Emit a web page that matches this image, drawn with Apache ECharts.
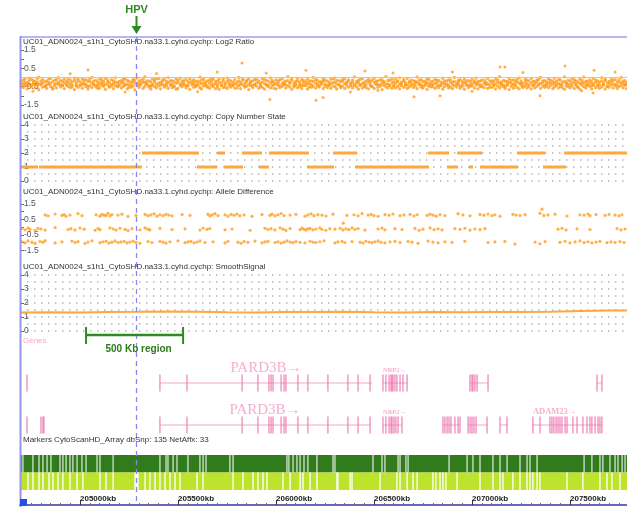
<!DOCTYPE html>
<html><head><meta charset="utf-8">
<script src="https://cdn.jsdelivr.net/npm/echarts@6/dist/echarts.min.js"></script>
<style>html,body{margin:0;padding:0;background:#fff}#c{width:627px;height:513px}</style>
</head><body><div id="c"></div>
<script>
// ---------- data (kb positions on chr2) ----------
const viewRange = [204694, 207791];
const axisRange = [204500, 208000];
const hpvKb = 205285;
const regionKb = [205031, 205526];
const trackTitles = [
  'UC01_ADN0024_s1h1_CytoSHD.na33.1.cyhd.cychp: Log2 Ratio',
  'UC01_ADN0024_s1h1_CytoSHD.na33.1.cyhd.cychp: Copy Number State',
  'UC01_ADN0024_s1h1_CytoSHD.na33.1.cyhd.cychp: Allele Difference',
  'UC01_ADN0024_s1h1_CytoSHD.na33.1.cyhd.cychp: SmoothSignal'
];
const markersTitle = 'Markers CytoScanHD_Array dbSnp: 135 NetAffx: 33';
const log2TickValues = [-1.5, -1, -0.5, 0, 0.5, 1, 1.5];
const log2LabelValues = [-1.5, -0.5, 0.5, 1.5];

// Log2 ratio probes: [kb, probeA, probeB, probeC]
const log2Probes = [
[204700,-0.2,-0.31,-0.48],[204711,-0.37,-0.14,-0.55],[204720,-0.07,-0.26,-0.38],[204731,-0.28,-0.42,-0.62],[204740,-0.03,-0.19,-0.44],[204752,-0.45,-0.1,-0.51],[204761,-0.17,-0.33,-0.35],[204770,-0.4,-0.22,-0.58],[204782,-0.24,-0.05,-0.42],[204790,0.02,-0.36,-0.67],
[204801,-0.34,-0.18,-0.4],[204810,-0.11,-0.29,-0.53],[204822,-0.49,-0.23,-0.46],[204830,-0.19,-0.4,-0.6],[204841,-0.27,-0.08,-0.37],[204850,-0.06,-0.32,-0.5],[204861,-0.56,-0.21,-0.64],[204871,-0.14,-0.35,-0.43],[204880,-0.32,-0.12,-0.57],[204890,-0.01,-0.27,-0.39],
[204901,-0.38,-0.16,-0.52],[204911,-0.22,-0.44,-0.45],[204920,-0.09,-0.3,-0.61],[204932,-0.43,-0.2,-0.36],[204940,-0.26,-0.06,-0.49],[204951,-0.15,-0.37,-0.56],[204960,-0.52,-0.25,-0.41],[204972,-0.04,-0.17,-0.66],[204981,-0.3,-0.41,-0.47],[204990,-0.18,-0.09,-0.54],
[205001,-0.41,-0.24,-0.43],[205012,-0.08,-0.34,-0.59],[205020,-0.29,-0.15,-0.38],[205031,-0.13,-0.38,-0.5],[205041,-0.47,-0.2,-0.63],[205050,-0.21,-0.07,-0.46],[205061,0.01,-0.31,-0.55],[205070,-0.35,-0.19,-0.4],[205082,-0.16,-0.43,-0.52],[205091,-0.44,-0.26,-0.6],
[205100,-0.1,-0.33,-0.57],[205111,-0.27,-0.12,-0.42],[205121,-0.39,-0.22,-0.48],[205130,-0.05,-0.36,-0.65],[205142,-0.23,-0.14,-0.39],[205150,-0.5,-0.28,-0.53],[205161,-0.12,-0.39,-0.46],[205171,-0.33,-0.18,-0.61],[205180,-0.02,-0.25,-0.44],[205191,-0.28,-0.46,-0.51],
[205200,-0.46,-0.21,-0.36],[205212,-0.17,-0.3,-0.58],[205221,-0.25,-0.09,-0.49],[205230,-0.07,-0.37,-0.43],[205241,-0.36,-0.16,-0.62],[205250,-0.2,-0.42,-0.54],[205262,-0.54,-0.27,-0.4],[205271,-0.11,-0.2,-0.47],[205280,-0.3,-0.13,-0.68],[205292,-0.03,-0.34,-0.45],
[205301,-0.4,-0.23,-0.55],[205310,-0.15,-0.32,-0.41],[205322,-0.26,-0.1,-0.6],[205331,0.03,-0.28,-0.48],[205340,-0.33,-0.19,-0.37],[205352,-0.19,-0.45,-0.52],[205361,-0.48,-0.24,-0.63],[205370,-0.09,-0.35,-0.44],[205381,-0.24,-0.14,-0.5],[205390,-0.37,-0.06,-0.57],
[205402,-0.06,-0.29,-0.46],[205411,-0.29,-0.4,-0.62],[205420,-0.14,-0.22,-0.39],[205431,-0.42,-0.11,-0.53],[205441,-0.21,-0.35,-0.45],[205450,-0.01,-0.26,-0.59],[205462,-0.35,-0.17,-0.42],[205471,-0.18,-0.38,-0.56],[205480,-0.51,-0.24,-0.48],[205491,-0.1,-0.31,-0.64],
[205500,-0.27,-0.15,-0.6],[205512,-0.04,-0.36,-0.44],[205521,-0.38,-0.21,-0.51],[205530,-0.16,-0.3,-0.38],[205541,-0.45,-0.12,-0.57],[205551,-0.23,-0.4,-0.47],[205560,-0.08,-0.27,-0.65],[205572,-0.31,-0.19,-0.41],[205581,-0.13,-0.34,-0.54],[205590,-0.43,-0.22,-0.49],
[205601,-0.2,-0.37,-0.42],[205612,0.02,-0.24,-0.56],[205620,-0.34,-0.13,-0.63],[205631,-0.11,-0.29,-0.47],[205641,-0.26,-0.41,-0.4],[205650,-0.49,-0.18,-0.53],[205661,-0.15,-0.32,-0.59],[205671,-0.05,-0.23,-0.45],[205680,-0.37,-0.1,-0.5],[205692,-0.22,-0.35,-0.61],
[205701,-0.41,-0.19,-0.5],[205710,-0.09,-0.28,-0.64],[205722,-0.28,-0.44,-0.43],[205731,-0.17,-0.07,-0.55],[205740,-0.53,-0.3,-0.38],[205751,-0.03,-0.21,-0.6],[205761,-0.32,-0.14,-0.46],[205770,-0.19,-0.38,-0.52],[205781,-0.44,-0.25,-0.41],[205790,-0.12,-0.33,-0.58],
[205802,-0.25,-0.4,-0.57],[205811,0.0,-0.18,-0.45],[205820,-0.36,-0.27,-0.61],[205831,-0.14,-0.09,-0.4],[205842,-0.47,-0.31,-0.53],[205850,-0.21,-0.16,-0.48],[205861,-0.07,-0.36,-0.66],[205870,-0.3,-0.22,-0.44],[205881,-0.18,-0.43,-0.55],[205891,-0.4,-0.12,-0.39],
[205900,-0.1,-0.29,-0.47],[205912,-0.27,-0.17,-0.59],[205921,-0.5,-0.34,-0.42],[205930,-0.06,-0.24,-0.54],[205941,-0.33,-0.11,-0.63],[205951,-0.16,-0.39,-0.41],[205960,-0.42,-0.2,-0.5],[205972,-0.02,-0.3,-0.57],[205981,-0.24,-0.15,-0.45],[205990,-0.38,-0.26,-0.6],
[206001,-0.13,-0.36,-0.62],[206011,-0.29,-0.2,-0.43],[206020,-0.46,-0.12,-0.55],[206032,-0.08,-0.33,-0.49],[206041,-0.35,-0.25,-0.38],[206050,-0.2,-0.41,-0.58],[206061,0.04,-0.17,-0.46],[206071,-0.31,-0.28,-0.52],[206080,-0.15,-0.07,-0.65],[206092,-0.52,-0.3,-0.44],
[206101,-0.22,-0.35,-0.41],[206110,-0.05,-0.19,-0.56],[206121,-0.39,-0.26,-0.48],[206131,-0.12,-0.42,-0.6],[206140,-0.27,-0.14,-0.45],[206152,-0.44,-0.23,-0.39],[206161,-0.09,-0.32,-0.63],[206170,-0.34,-0.18,-0.51],[206181,-0.18,-0.39,-0.54],[206190,0.01,-0.21,-0.47],
[206202,-0.3,-0.12,-0.58],[206211,-0.14,-0.37,-0.44],[206220,-0.48,-0.24,-0.52],[206231,-0.23,-0.31,-0.37],[206241,-0.06,-0.2,-0.61],[206250,-0.37,-0.15,-0.49],[206262,-0.19,-0.43,-0.55],[206271,-0.41,-0.27,-0.42],[206280,-0.1,-0.33,-0.59],[206291,-0.28,-0.08,-0.46],
[206301,-0.03,-0.26,-0.5],[206310,-0.35,-0.17,-0.63],[206322,-0.17,-0.4,-0.4],[206331,-0.5,-0.22,-0.56],[206340,-0.21,-0.11,-0.47],[206351,-0.08,-0.34,-0.6],[206361,-0.32,-0.25,-0.43],[206370,-0.13,-0.19,-0.53],[206382,-0.45,-0.3,-0.38],[206391,-0.25,-0.14,-0.57],
[206400,0.03,-0.38,-0.45],[206412,-0.3,-0.21,-0.52],[206421,-0.16,-0.28,-0.64],[206430,-0.42,-0.1,-0.41],[206441,-0.07,-0.33,-0.58],[206451,-0.27,-0.44,-0.48],[206460,-0.38,-0.18,-0.55],[206472,-0.11,-0.24,-0.62],[206481,-0.22,-0.36,-0.44],[206490,-0.49,-0.15,-0.5],
[206501,-0.04,-0.27,-0.6],[206511,-0.33,-0.2,-0.39],[206520,-0.19,-0.39,-0.54],[206532,-0.4,-0.13,-0.47],[206541,-0.12,-0.3,-0.66],[206550,-0.26,-0.22,-0.43],[206561,0.05,-0.35,-0.51],[206571,-0.36,-0.16,-0.57],[206580,-0.15,-0.42,-0.46],[206592,-0.29,-0.09,-0.59],
[206601,-0.47,-0.24,-0.42],[206610,-0.09,-0.31,-0.57],[206621,-0.23,-0.18,-0.49],[206631,-0.02,-0.37,-0.62],[206640,-0.34,-0.26,-0.45],[206652,-0.18,-0.12,-0.54],[206661,-0.43,-0.29,-0.38],[206670,-0.06,-0.4,-0.6],[206681,-0.28,-0.21,-0.52],[206690,-0.14,-0.33,-0.44],
[206702,-0.39,-0.17,-0.55],[206711,-0.21,-0.3,-0.46],[206720,0.02,-0.25,-0.61],[206731,-0.31,-0.14,-0.4],[206741,-0.12,-0.41,-0.53],[206750,-0.46,-0.22,-0.58],[206762,-0.2,-0.34,-0.43],[206771,-0.07,-0.28,-0.65],[206780,-0.35,-0.11,-0.48],[206791,-0.24,-0.38,-0.51],
[206800,-0.51,-0.2,-0.39],[206812,-0.1,-0.32,-0.6],[206821,-0.28,-0.16,-0.47],[206830,-0.16,-0.43,-0.56],[206841,-0.41,-0.25,-0.44],[206851,-0.04,-0.3,-0.63],[206860,-0.33,-0.19,-0.5],[206872,-0.19,-0.36,-0.42],[206881,-0.45,-0.13,-0.57],[206890,-0.13,-0.27,-0.53],
[206901,-0.26,-0.39,-0.61],[206910,0.0,-0.21,-0.45],[206922,-0.37,-0.3,-0.52],[206931,-0.15,-0.24,-0.38],[206940,-0.48,-0.12,-0.59],[206951,-0.22,-0.35,-0.48],[206961,-0.08,-0.28,-0.64],[206970,-0.31,-0.17,-0.43],[206982,-0.17,-0.42,-0.55],[206991,-0.42,-0.23,-0.47],
[207000,-0.11,-0.34,-0.46],[207012,-0.27,-0.19,-0.58],[207021,-0.03,-0.29,-0.41],[207030,-0.36,-0.22,-0.62],[207041,-0.2,-0.4,-0.5],[207050,-0.5,-0.14,-0.44],[207062,-0.14,-0.31,-0.56],[207071,-0.3,-0.25,-0.39],[207080,-0.06,-0.37,-0.6],[207091,-0.39,-0.18,-0.53],
[207102,-0.18,-0.28,-0.54],[207111,-0.44,-0.21,-0.4],[207120,-0.09,-0.35,-0.63],[207131,-0.25,-0.13,-0.47],[207141,0.04,-0.3,-0.57],[207150,-0.34,-0.24,-0.45],[207161,-0.16,-0.41,-0.51],[207170,-0.47,-0.2,-0.6],[207181,-0.21,-0.33,-0.42],[207190,-0.07,-0.27,-0.66],
[207201,-0.32,-0.16,-0.48],[207212,-0.13,-0.38,-0.59],[207221,-0.4,-0.23,-0.44],[207230,-0.24,-0.1,-0.55],[207241,-0.02,-0.31,-0.62],[207251,-0.29,-0.19,-0.41],[207260,-0.52,-0.35,-0.53],[207272,-0.11,-0.26,-0.46],[207281,-0.35,-0.14,-0.58],[207290,-0.19,-0.4,-0.5],
[207302,-0.05,-0.29,-0.63],[207311,-0.42,-0.2,-0.43],[207320,-0.23,-0.36,-0.57],[207331,-0.14,-0.25,-0.49],[207341,-0.37,-0.11,-0.4],[207350,0.01,-0.32,-0.6],[207361,-0.28,-0.18,-0.46],[207371,-0.17,-0.42,-0.54],[207380,-0.46,-0.24,-0.38],[207391,-0.09,-0.3,-0.56],
[207400,-0.3,-0.15,-0.44],[207412,-0.2,-0.37,-0.61],[207421,-0.04,-0.27,-0.52],[207430,-0.38,-0.21,-0.45],[207441,-0.12,-0.33,-0.58],[207451,-0.49,-0.13,-0.39],[207460,-0.25,-0.4,-0.55],[207472,0.03,-0.22,-0.64],[207481,-0.33,-0.29,-0.47],[207490,-0.15,-0.36,-0.51],
[207501,-0.41,-0.19,-0.57],[207510,-0.08,-0.3,-0.46],[207522,-0.27,-0.12,-0.6],[207531,-0.18,-0.38,-0.42],[207540,-0.53,-0.24,-0.53],[207551,-0.1,-0.33,-0.65],[207561,-0.31,-0.16,-0.41],[207570,0.02,-0.27,-0.5],[207581,-0.22,-0.41,-0.58],[207590,-0.36,-0.2,-0.45],
[207602,-0.13,-0.31,-0.49],[207611,-0.44,-0.23,-0.62],[207620,-0.06,-0.35,-0.43],[207631,-0.26,-0.14,-0.56],[207641,-0.19,-0.4,-0.47],[207650,-0.4,-0.26,-0.59],[207662,-0.01,-0.18,-0.52],[207671,-0.3,-0.37,-0.4],[207680,-0.16,-0.11,-0.63],[207691,-0.48,-0.29,-0.48],
[207700,-0.21,-0.34,-0.54],[207711,-0.07,-0.22,-0.41],[207720,-0.35,-0.16,-0.58],[207731,-0.12,-0.39,-0.46],[207741,-0.43,-0.25,-0.6],[207750,-0.24,-0.13,-0.5],[207761,0.0,-0.31,-0.44],[207771,-0.32,-0.2,-0.57],[207780,-0.17,-0.42,-0.39],[207789,-0.39,-0.27,-0.61]
];
const log2Outliers = [
[204760,-0.75],[204950,0.2],[205041,0.41],[205230,-0.8],[205390,0.22],[205600,-0.78],[205700,0.3],[205827,0.79],
[205950,0.25],[205969,-1.2],[206153,0.4],[206204,-1.25],[206240,-1.1],[206380,-0.8],[206454,0.36],[206520,-0.7],
[206597,0.25],[206704,-1.05],[206837,-1.0],[206900,0.3],[207000,-0.75],[207143,0.57],[207168,0.57],[207260,0.28],
[207347,-1.0],[207475,0.63],[207560,-0.72],[207618,-0.85],[207623,0.4],[207730,0.3]
];

// Copy number state segments: [startKb, endKb, state]
const cnSegments = [
[204694,204786,1],[204791,205316,1],[205316,205607,2],[205597,205699,1],[205699,205740,2],[205735,205832,1],
[205827,205929,2],[205913,205964,1],[205964,206168,2],[206158,206296,1],[206291,206413,2],[206403,206781,1],
[206776,206883,2],[206873,206929,1],[206924,207051,2],[206985,207005,1],[207041,207235,1],[207230,207373,2],
[207362,207480,1],[207470,207791,2]
];

// Allele difference: three bands [kb, value]
const alleleTop = [
[204822,0.78],[204837,0.72],[204873,0.84],[204908,0.75],[204919,0.8],[204929,0.69],[204949,0.77],[204990,0.86],[205010,0.73],[205082,0.79],
[205102,0.7],[205112,0.82],[205123,0.76],[205133,0.74],[205143,0.88],[205153,0.71],[205163,0.8],[205194,0.77],[205214,0.83],[205245,0.68],
[205286,0.75],[205332,0.81],[205347,0.73],[205362,0.78],[205378,0.85],[205393,0.7],[205408,0.79],[205424,0.74],[205439,0.82],[205454,0.77],
[205470,0.72],[205521,0.8],[205561,0.75],[205653,0.83],[205663,0.71],[205674,0.78],[205689,0.86],[205704,0.74],[205740,0.79],[205755,0.7],
[205771,0.81],[205786,0.76],[205801,0.84],[205816,0.73],[205837,0.78],[205878,0.69],[205929,0.8],[205969,0.75],[205980,0.83],[205995,0.72],
[206010,0.79],[206026,0.87],[206041,0.74],[206072,0.77],[206102,0.82],[206148,0.7],[206163,0.78],[206179,0.85],[206194,0.73],[206214,0.8],
[206235,0.76],[206255,0.71],[206291,0.83],[206343,0.25],[206362,0.75],[206398,0.79],[206419,0.72],[206439,0.86],[206470,0.77],[206485,0.81],[206500,0.74],
[206521,0.69],[206556,0.8],[206577,0.76],[206597,0.84],[206633,0.73],[206653,0.78],[206684,0.82],[206704,0.71],[206720,0.79],[206771,0.75],
[206786,0.83],[206801,0.77],[206817,0.7],[206837,0.8],[206862,0.74],[206929,0.86],[206954,0.78],[206990,0.72],[207041,0.81],[207061,0.76],
[207082,0.84],[207102,0.73],[207117,0.79],[207143,0.7],[207209,0.82],[207225,0.77],[207245,0.75],[207271,0.8],[207347,0.88],[207357,1.15],[207367,0.74],
[207388,0.78],[207424,0.83],[207485,0.71],[207551,0.79],[207572,0.76],[207592,0.84],[207602,0.73],[207633,0.8],[207679,0.75],[207699,0.82],
[207730,0.77],[207750,0.72],[207765,0.79]
];
const alleleMid = [
[204704,-0.1],[204720,-0.18],[204735,-0.06],[204745,-0.15],[204771,-0.22],[204786,-0.09],[204801,-0.13],[204822,-0.2],[204873,-0.04],[204939,-0.16],
[204954,-0.11],[204975,-0.19],[205000,-0.07],[205021,-0.14],[205077,-0.21],[205092,-0.1],[205102,-0.17],[205153,-0.05],[205169,-0.13],[205184,-0.2],
[205204,-0.08],[205230,-0.15],[205245,-0.23],[205265,-0.11],[205306,-0.18],[205332,-0.06],[205347,-0.14],[205357,-0.19],[205408,-0.09],[205470,-0.16],
[205536,-0.12],[205612,-0.2],[205628,-0.07],[205648,-0.15],[205663,-0.1],[205740,-0.18],[205776,-0.13],[205868,-0.21],[205944,-0.08],[205959,-0.16],
[205975,-0.11],[205995,-0.19],[206021,-0.05],[206036,-0.14],[206051,-0.22],[206072,-0.1],[206123,-0.17],[206133,-0.07],[206143,-0.15],[206153,-0.2],
[206163,-0.12],[206174,-0.09],[206189,-0.18],[206204,-0.13],[206224,-0.06],[206235,-0.16],[206255,-0.21],[206275,-0.11],[206301,-0.14],[206327,-0.08],
[206342,-0.19],[206357,-0.12],[206372,-0.17],[206388,-0.05],[206403,-0.15],[206419,-0.1],[206454,-0.2],[206521,-0.13],[206541,-0.07],[206556,-0.18],
[206607,-0.11],[206643,-0.16],[206709,-0.09],[206730,-0.21],[206750,-0.14],[206786,-0.06],[206807,-0.17],[206827,-0.12],[206847,-0.19],[206913,-0.1],
[206939,-0.15],[206964,-0.08],[206990,-0.2],[207015,-0.13],[207041,-0.17],[207066,-0.11],[207439,-0.14],[207459,-0.08],[207480,-0.19],[207536,-0.12],
[207602,-0.16],[207740,-0.1],[207760,-0.18],[207781,-0.13]
];
const alleleBot = [
[204704,-0.95],[204720,-1.02],[204735,-0.9],[204755,-0.98],[204771,-1.06],[204796,-0.93],[204811,-0.99],[204822,-0.88],[204873,-1.03],[204908,-0.96],
[204959,-0.91],[204975,-1.0],[204990,-0.94],[205026,-1.05],[205041,-0.97],[205061,-0.89],[205102,-1.01],[205117,-0.95],[205133,-0.92],[205148,-1.04],
[205163,-0.98],[205179,-0.9],[205194,-1.0],[205209,-0.96],[205225,-0.93],[205240,-1.03],[205255,-0.97],[205271,-0.91],[205286,-0.99],[205306,-1.05],
[205347,-0.94],[205367,-1.0],[205408,-0.92],[205424,-0.98],[205439,-1.04],[205459,-0.95],[205500,-0.89],[205536,-1.01],[205551,-0.96],[205566,-0.93],
[205582,-1.02],[205597,-0.97],[205612,-0.9],[205638,-1.0],[205679,-0.95],[205740,-1.03],[205755,-0.92],[205806,-0.98],[205822,-1.05],[205837,-0.94],
[205857,-0.99],[205893,-0.91],[205929,-1.02],[205944,-0.96],[205959,-0.93],[205995,-1.0],[206010,-0.95],[206026,-1.04],[206041,-0.98],[206056,-0.9],
[206072,-0.97],[206087,-1.01],[206102,-0.94],[206123,-0.99],[206148,-1.03],[206174,-0.92],[206189,-0.97],[206204,-1.0],[206224,-0.95],[206245,-0.89],
[206301,-1.02],[206316,-0.96],[206337,-0.93],[206352,-1.0],[206388,-0.94],[206429,-0.98],[206444,-1.04],[206459,-0.92],[206475,-0.97],[206490,-1.01],
[206505,-0.95],[206521,-0.9],[206536,-0.99],[206556,-1.03],[206582,-0.96],[206607,-0.93],[206633,-1.0],[206674,-0.94],[206694,-0.98],[206725,-1.05],
[206776,-0.91],[206801,-0.97],[206827,-1.02],[206862,-0.95],[206898,-0.99],[206964,-0.92],[207082,-1.0],[207117,-0.96],[207168,-0.93],[207219,-1.1],
[207322,-0.97],[207347,-1.08],[207373,-0.94],[207449,-0.99],[207475,-0.92],[207500,-1.03],[207526,-0.96],[207551,-0.9],[207572,-1.0],[207592,-0.95],
[207612,-1.02],[207633,-0.97],[207653,-0.93],[207689,-1.01],[207709,-0.96],[207730,-0.99],[207755,-0.94],[207776,-1.0]
];

// Smooth signal: [kb, value]
const smoothSignal = [
[204694,1.33],[204850,1.34],[205000,1.32],[205150,1.35],[205300,1.37],[205450,1.4],[205600,1.38],[205750,1.34],
[205900,1.33],[206050,1.36],[206200,1.35],[206350,1.37],[206500,1.34],[206650,1.33],[206800,1.35],[206950,1.34],
[207100,1.36],[207250,1.35],[207400,1.38],[207550,1.43],[207700,1.47],[207791,1.47]
];

// Genes: spans [startKb, endKb, row] with names, exons [kb, row]
const geneSpans = [
[205408,206490,0],[206546,206669,0],[206990,207082,0],[207638,207663,0],
[205408,206480,1],[206546,206643,1],[206852,206939,1],[206980,207077,1],[207143,207179,1],[207311,207663,1]
];
const geneNames = ['PARD3B\u2192','NRP2\u2192','','','PARD3B\u2192','NRP2\u2192','','','','ADAM23\u2192'];
const geneExons = [
[204730,0],[205408,0],[205546,0],[205827,0],[205908,0],[205964,0],[205975,0],[205985,0],[206026,0],[206041,0],[206051,0],
[206112,0],[206163,0],[206265,0],[206367,0],[206419,0],[206480,0],
[206546,0],[206561,0],[206577,0],[206587,0],[206592,0],[206597,0],[206607,0],[206617,0],[206633,0],[206648,0],[206669,0],
[206990,0],[207000,0],[207005,0],[207015,0],[207026,0],[207082,0],[207638,0],[207663,0],
[204730,1],[204801,1],[204811,1],[204816,1],
[205408,1],[205546,1],[205827,1],[205908,1],[205964,1],[205975,1],[205985,1],[206026,1],[206041,1],[206051,1],
[206112,1],[206163,1],[206265,1],[206367,1],[206419,1],[206480,1],
[206546,1],[206561,1],[206577,1],[206587,1],[206592,1],[206602,1],[206612,1],[206623,1],[206643,1],
[206852,1],[206862,1],[206873,1],[206883,1],[206893,1],[206913,1],[206929,1],[206939,1],
[206980,1],[206990,1],[207000,1],[207010,1],[207021,1],[207077,1],[207143,1],[207179,1],
[207311,1],[207347,1],[207398,1],[207408,1],[207418,1],[207429,1],[207439,1],[207449,1],[207459,1],[207475,1],[207485,1],
[207515,1],[207536,1],[207566,1],[207587,1],[207602,1],[207612,1],[207628,1],[207643,1],[207653,1],[207663,1]
];

// Marker coverage: gaps in the two marker rows (kb)
const markerGapsDark = [
204709,204760,204791,204811,204832,204852,204898,204913,204929,204949,204964,204985,205010,205031,205087,205102,205169,
205408,205439,205449,205475,205495,205551,205612,205628,205643,205765,205781,206056,206066,206087,206107,206123,206143,
206163,206209,206291,206301,206495,206541,206556,206623,206633,206663,206674,206883,206975,207005,207041,207107,207143,
207179,207245,207281,207296,207332,207572,207612,207653,207668,207704,207730,207745,207766,207781
];
const markerGapsLight = [
204735,204760,204791,204811,204842,204862,204888,204913,204949,204985,205015,205102,205133,205169,205281,205286,205291,
205296,205332,205357,205383,205408,205434,205459,205485,205510,205597,205628,205781,205832,205883,205908,205934,205954,
206036,206072,206123,206138,206174,206209,206311,206316,206378,206388,206531,206617,206633,206669,206699,206720,206801,
206816,206837,206852,206867,206924,207041,207107,207143,207158,207209,207245,207281,207296,207311,207332,207347,207485,
207566,207653,207689,207714,207755
];
const markerRows = [[204694,207791,1],[204694,207791,0]];

// ---------- chart ----------
const chart = echarts.init(document.getElementById('c'), null, {renderer:'canvas'});
const ORANGE = '#ff9c1c';
const CN_ORANGE = '#ffa63d';
const FONT = 'Liberation Sans, Arial, sans-serif';

const grids = [
  {top:41, height:73},   // log2
  {top:125, height:56},  // CN
  {top:196, height:62},  // allele
  {top:275, height:56},  // smooth
  {top:362, height:84},  // genes
  {top:455, height:35},  // markers
].map(g => Object.assign({left:20, right:0, containLabel:false, outerBoundsMode:'none'}, g));
grids.push({left:-18, right:-41, top:485, height:20, containLabel:false, outerBoundsMode:'none'});

const xAxes = grids.map((g, i) => i < 6 ? {
  type:'value', gridIndex:i, min:viewRange[0], max:viewRange[1], show:false
} : {
  type:'value', gridIndex:i, min:axisRange[0], max:axisRange[1], interval:500, position:'bottom',
  axisLine:{show:true, lineStyle:{color:'#6868bd', width:2}},
  axisTick:{show:true, inside:true, length:5, lineStyle:{color:'#333'}},
  minorTick:{show:true, splitNumber:10, length:2, lineStyle:{color:'#666'}},
  splitLine:{show:false},
  axisLabel:{inside:true, align:'left', margin:2, fontSize:8, fontWeight:'bold', color:'#222',
    fontFamily:FONT, showMinLabel:false, showMaxLabel:false, formatter: v => v + 'kb'}
});

const labelStyle = {inside:true, margin:4, fontSize:8.5, color:'#555', fontFamily:FONT};
const tickStyle = {show:true, inside:true, length:4, lineStyle:{color:'#666'}};
const dotted = {show:true, lineStyle:{color:'#b4b4b4', width:1.5, type:[1.5,5.5]}};

const yAxes = [
  {type:'value', gridIndex:0, min:-2, max:2, axisLine:{show:false}, splitLine:{show:false},
   axisTick:Object.assign({customValues:log2TickValues}, tickStyle),
   axisLabel:Object.assign({customValues:log2LabelValues}, labelStyle)},
  {type:'value', gridIndex:1, min:0, max:4, interval:1, axisLine:{show:false},
   axisTick:tickStyle, axisLabel:labelStyle, splitLine:dotted,
   minorTick:{show:false, splitNumber:2}, minorSplitLine:dotted},
  {type:'value', gridIndex:2, min:-2, max:2, axisLine:{show:false}, splitLine:{show:false},
   axisTick:Object.assign({customValues:log2TickValues}, tickStyle),
   axisLabel:Object.assign({customValues:log2LabelValues}, labelStyle)},
  {type:'value', gridIndex:3, min:0, max:4, interval:1, axisLine:{show:false},
   axisTick:tickStyle, axisLabel:labelStyle, splitLine:dotted,
   minorTick:{show:false, splitNumber:2}, minorSplitLine:dotted},
  {type:'value', gridIndex:4, min:0, max:2, show:false},
  {type:'value', gridIndex:5, min:0, max:2, show:false},
  {type:'value', gridIndex:6, min:0, max:1, show:false}
];

const rowValue = r => r === 0 ? 1.5 : 0.5;
const log2Series = (dim, extra) => Object.assign({type:'scatter', xAxisIndex:0, yAxisIndex:0, data:log2Probes,
  encode:{x:0, y:dim}, symbolSize:3.3, itemStyle:{color:ORANGE}, silent:true, z:3}, extra || {});

const series = [
  log2Series(1, {markLine:{silent:true, symbol:'none', label:{show:false}, data:[{yAxis:0}],
     lineStyle:{color:'#c3c6dc', type:'solid', width:1}}}),
  log2Series(2),
  log2Series(3),
  {type:'scatter', xAxisIndex:0, yAxisIndex:0, data:log2Outliers, symbolSize:3,
   itemStyle:{color:ORANGE}, silent:true, z:3},
  {type:'custom', xAxisIndex:1, yAxisIndex:1, data:cnSegments, encode:{x:[0,1], y:2}, silent:true, z:3,
   renderItem:(p, api) => {
     const a = api.coord([api.value(0), api.value(2)]);
     const b = api.coord([api.value(1), api.value(2)]);
     return {type:'line', shape:{x1:a[0], y1:a[1], x2:b[0], y2:b[1]}, style:{stroke:CN_ORANGE, lineWidth:3}};
   }},
  {type:'scatter', xAxisIndex:2, yAxisIndex:2, data:alleleTop, symbolSize:3.2, itemStyle:{color:ORANGE}, silent:true},
  {type:'scatter', xAxisIndex:2, yAxisIndex:2, data:alleleMid, symbolSize:3.2, itemStyle:{color:ORANGE}, silent:true},
  {type:'scatter', xAxisIndex:2, yAxisIndex:2, data:alleleBot, symbolSize:3.2, itemStyle:{color:ORANGE}, silent:true},
  {type:'line', xAxisIndex:3, yAxisIndex:3, data:smoothSignal, showSymbol:false, silent:true, z:3,
   lineStyle:{color:CN_ORANGE, width:2}, itemStyle:{color:CN_ORANGE}},
  {type:'custom', xAxisIndex:4, yAxisIndex:4, data:geneSpans, encode:{x:[0,1], y:2}, silent:true,
   renderItem:(p, api) => {
     const r = api.value(2);
     const a = api.coord([api.value(0), rowValue(r)]);
     const b = api.coord([api.value(1), rowValue(r)]);
     const children = [{type:'line', shape:{x1:a[0], y1:a[1], x2:b[0], y2:b[1]},
       style:{stroke:'#f3a6c8', lineWidth:1}}];
     const name = geneNames[p.dataIndex];
     if (name) {
       const w = b[0] - a[0];
       const size = w > 150 ? 15 : (w > 50 ? 8.5 : 6.5);
       children.push({type:'text', style:{text:name, x: w > 150 ? (a[0]+b[0])/2 : a[0],
         y: a[1] - (w > 150 ? 15 : 13), align: w > 150 ? 'center' : 'left', verticalAlign:'middle',
         font: (w > 150 ? '' : 'bold ') + size + 'px "Liberation Serif", "DejaVu Serif", serif',
         fill:'#f5aed0'}});
     }
     return {type:'group', children};
   }},
  {type:'custom', xAxisIndex:4, yAxisIndex:4, data:geneExons, encode:{x:0, y:1}, silent:true,
   renderItem:(p, api) => {
     const c = api.coord([api.value(0), rowValue(api.value(1))]);
     return {type:'rect', shape:{x:c[0]-0.65, y:c[1]-8.5, width:1.3, height:17},
       style:{fill:'#ec74ad', opacity:0.85}};
   }},
  {type:'custom', xAxisIndex:5, yAxisIndex:5, data:markerRows, encode:{x:[0,1], y:2}, silent:true, z:1,
   renderItem:(p, api) => {
     const a = api.coord([api.value(0), api.value(2) + 1]);
     const b = api.coord([api.value(1), api.value(2)]);
     return {type:'rect', shape:{x:a[0], y:a[1], width:b[0]-a[0], height:b[1]-a[1]},
       style:{fill: api.value(2) === 1 ? '#327b1d' : '#bde32d'}};
   }},
  {type:'custom', xAxisIndex:5, yAxisIndex:5, data:markerGapsDark.map(k => [k, 1]), encode:{x:0, y:1}, silent:true, z:2,
   renderItem:(p, api) => {
     const a = api.coord([api.value(0), 2]);
     const b = api.coord([api.value(0), 1]);
     return {type:'rect', shape:{x:a[0]-0.6, y:a[1], width:1.2, height:b[1]-a[1]}, style:{fill:'#ffffff', opacity:0.85}};
   }},
  {type:'custom', xAxisIndex:5, yAxisIndex:5, data:markerGapsLight.map(k => [k, 0]), encode:{x:0, y:1}, silent:true, z:2,
   renderItem:(p, api) => {
     const a = api.coord([api.value(0), 1]);
     const b = api.coord([api.value(0), 0]);
     return {type:'rect', shape:{x:a[0]-0.7, y:a[1], width:1.4, height:b[1]-a[1]}, style:{fill:'#ffffff', opacity:0.95}};
   }}
];

chart.setOption({
  animation:false,
  textStyle:{fontFamily:FONT},
  grid:grids, xAxis:xAxes, yAxis:yAxes, series
});

// ---------- overlay annotations placed through the x scale ----------
const px = v => chart.convertToPixel({xAxisIndex:0}, v);
const hx = Math.round(px(hpvKb)) + 0.5;
const r0 = px(regionKb[0]), r1 = px(regionKb[1]);
const titleY = [42, 116.5, 191.5, 266.5];
const GREEN = '#2f8a22';

const graphics = [
  {type:'rect', z:100, shape:{x:0, y:470, width:19.3, height:43}, style:{fill:'#fff'}},
  {type:'line', z:101, shape:{x1:627, y1:37, x2:20, y2:37}, style:{stroke:'#b6b6f0', lineWidth:2}},
  {type:'line', z:101, shape:{x1:20.5, y1:36, x2:20.5, y2:507}, style:{stroke:'#9595ee', lineWidth:2}},
  {type:'rect', z:102, shape:{x:20, y:499, width:7, height:7}, style:{fill:'#2a4ee0'}},
  {type:'line', z:103, shape:{x1:hx, y1:37, x2:hx, y2:505},
   style:{stroke:'#8787f2', lineWidth:1.3, lineDash:[5,4]}},
  {type:'text', z:103, style:{text:'HPV', x:hx, y:10, align:'center', verticalAlign:'middle',
   font:'bold 11px Liberation Sans, Arial, sans-serif', fill:GREEN}},
  {type:'line', z:103, shape:{x1:hx, y1:16, x2:hx, y2:29}, style:{stroke:GREEN, lineWidth:2}},
  {type:'polygon', z:103, shape:{points:[[hx-5, 26], [hx+5, 26], [hx, 34]]}, style:{fill:GREEN}},
  {type:'line', z:103, shape:{x1:r0, y1:335, x2:r1, y2:335}, style:{stroke:GREEN, lineWidth:2.5}},
  {type:'line', z:103, shape:{x1:r0, y1:327, x2:r0, y2:344}, style:{stroke:GREEN, lineWidth:2}},
  {type:'line', z:103, shape:{x1:r1, y1:327, x2:r1, y2:344}, style:{stroke:GREEN, lineWidth:2}},
  {type:'text', z:103, style:{text:'500 Kb region', x:(r0+r1)/2 + 4, y:349, align:'center', verticalAlign:'middle',
   font:'bold 10px Liberation Sans, Arial, sans-serif', fill:'#2a7a1c'}},
  {type:'text', z:103, style:{text:'Genes', x:23, y:341, verticalAlign:'middle',
   font:'8px Liberation Sans, Arial, sans-serif', fill:'#f4a6c6'}},
  {type:'text', z:103, style:{text:markersTitle, x:23, y:440, verticalAlign:'middle',
   font:'8px Liberation Sans, Arial, sans-serif', fill:'#333'}}
];
trackTitles.forEach((t, i) => graphics.push({type:'text', z:103, style:{text:t, x:23, y:titleY[i],
  verticalAlign:'middle', font:'8px Liberation Sans, Arial, sans-serif', fill:'#333'}}));
chart.setOption({graphic:graphics});
</script>
</body></html>
